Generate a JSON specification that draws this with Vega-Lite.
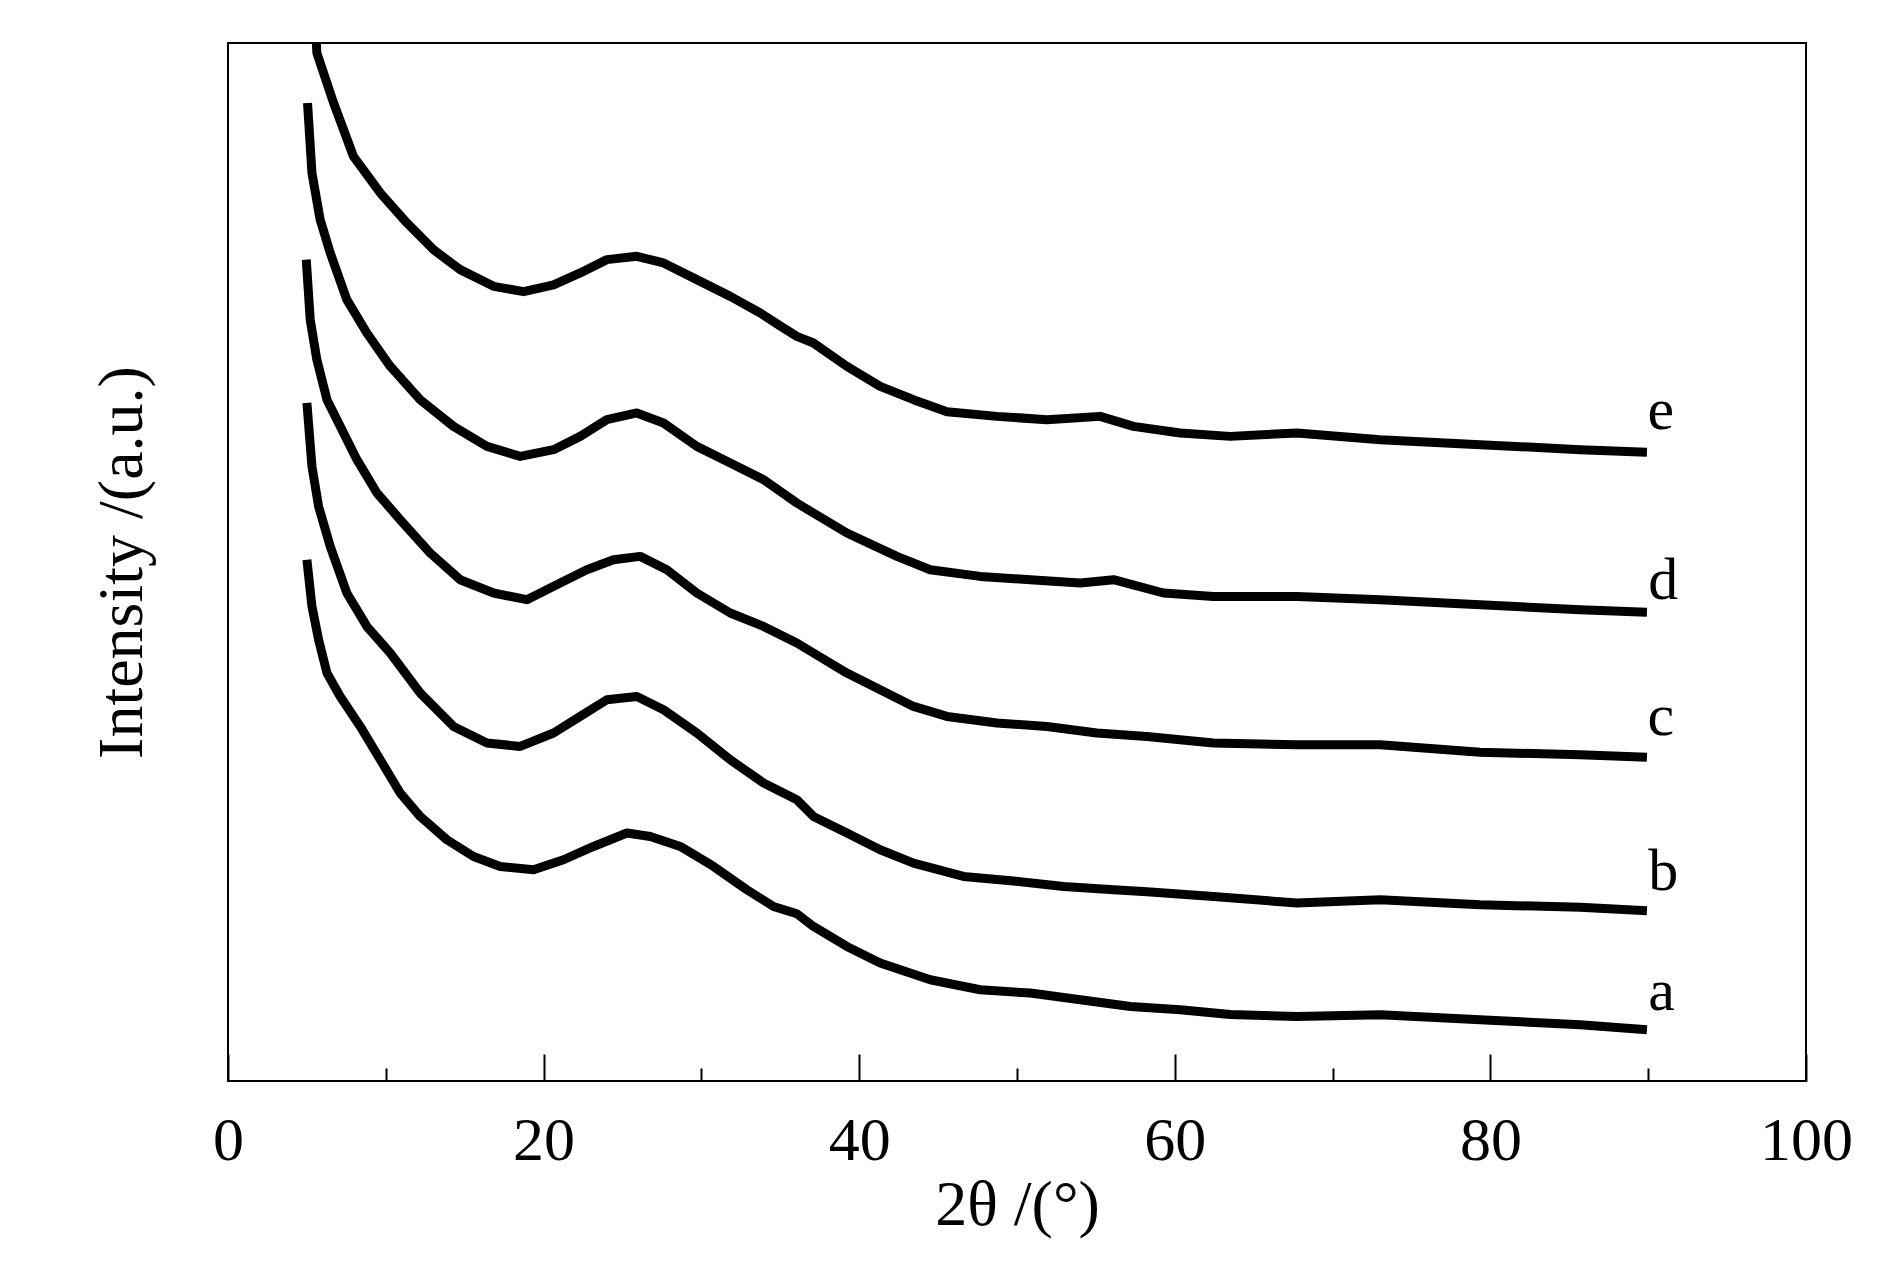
{
  "$schema": "https://vega.github.io/schema/vega-lite/v6.json",
  "autosize": {"type": "none"},
  "padding": {"left": 228, "top": 43, "right": 84, "bottom": 195},
  "width": 1578,
  "height": 1038,
  "background": "white",
  "config": {
    "view": {"stroke": "black", "strokeWidth": 2},
    "axis": {"labelFont": "Liberation Serif", "titleFont": "Liberation Serif", "labelColor": "black", "titleColor": "black", "titleFontWeight": "normal", "grid": false, "tickColor": "black", "tickWidth": 2}
  },
  "datasets": {
    "curves": [
      {"s": "e", "x": 5.50, "y": 1075}, {"s": "e", "x": 5.63, "y": 1027.9}, {"s": "e", "x": 6.69, "y": 977.9}, {"s": "e", "x": 7.95, "y": 924.5}, {"s": "e", "x": 9.65, "y": 887.9}, {"s": "e", "x": 11.34, "y": 857.9}, {"s": "e", "x": 13.02, "y": 831.2}, {"s": "e", "x": 14.71, "y": 811.2}, {"s": "e", "x": 16.83, "y": 794.5}, {"s": "e", "x": 18.73, "y": 789.2}, {"s": "e", "x": 20.63, "y": 795.9}, {"s": "e", "x": 22.32, "y": 807.9}, {"s": "e", "x": 24.01, "y": 821.2}, {"s": "e", "x": 25.91, "y": 824.5}, {"s": "e", "x": 27.60, "y": 817.9}, {"s": "e", "x": 29.71, "y": 801.2}, {"s": "e", "x": 31.83, "y": 784.5}, {"s": "e", "x": 33.73, "y": 767.9}, {"s": "e", "x": 34.99, "y": 755}, {"s": "e", "x": 36.05, "y": 744.5}, {"s": "e", "x": 37.10, "y": 737.9}, {"s": "e", "x": 39.22, "y": 714.5}, {"s": "e", "x": 41.33, "y": 694.5}, {"s": "e", "x": 43.44, "y": 681.2}, {"s": "e", "x": 45.56, "y": 669.2}, {"s": "e", "x": 48.73, "y": 664.5}, {"s": "e", "x": 51.89, "y": 661.2}, {"s": "e", "x": 55.27, "y": 664.5}, {"s": "e", "x": 57.38, "y": 654.5}, {"s": "e", "x": 60.34, "y": 647.9}, {"s": "e", "x": 63.51, "y": 644.5}, {"s": "e", "x": 67.74, "y": 647.9}, {"s": "e", "x": 73.02, "y": 641.2}, {"s": "e", "x": 79.35, "y": 636.2}, {"s": "e", "x": 85.69, "y": 631.2}, {"s": "e", "x": 89.92, "y": 628.7},
      {"s": "d", "x": 5.04, "y": 977.9}, {"s": "d", "x": 5.32, "y": 907.9}, {"s": "d", "x": 5.84, "y": 861.2}, {"s": "d", "x": 6.48, "y": 827.9}, {"s": "d", "x": 7.53, "y": 781.2}, {"s": "d", "x": 8.80, "y": 747.9}, {"s": "d", "x": 10.28, "y": 714.5}, {"s": "d", "x": 12.18, "y": 681.2}, {"s": "d", "x": 14.29, "y": 654.5}, {"s": "d", "x": 16.41, "y": 634.5}, {"s": "d", "x": 18.52, "y": 624.5}, {"s": "d", "x": 20.63, "y": 631.2}, {"s": "d", "x": 22.32, "y": 644.5}, {"s": "d", "x": 24.01, "y": 661.2}, {"s": "d", "x": 25.91, "y": 667.9}, {"s": "d", "x": 27.60, "y": 657.9}, {"s": "d", "x": 29.71, "y": 634.5}, {"s": "d", "x": 31.83, "y": 617.9}, {"s": "d", "x": 33.94, "y": 601.2}, {"s": "d", "x": 36.05, "y": 577.9}, {"s": "d", "x": 37.10, "y": 567.9}, {"s": "d", "x": 39.22, "y": 547.9}, {"s": "d", "x": 42.39, "y": 524.5}, {"s": "d", "x": 44.50, "y": 511.2}, {"s": "d", "x": 47.67, "y": 504.5}, {"s": "d", "x": 50.84, "y": 501.2}, {"s": "d", "x": 54.01, "y": 497.9}, {"s": "d", "x": 56.12, "y": 501.2}, {"s": "d", "x": 59.28, "y": 487.9}, {"s": "d", "x": 62.45, "y": 484.5}, {"s": "d", "x": 67.74, "y": 484.5}, {"s": "d", "x": 73.02, "y": 481.2}, {"s": "d", "x": 79.35, "y": 476.2}, {"s": "d", "x": 85.69, "y": 471.2}, {"s": "d", "x": 89.92, "y": 468.7},
      {"s": "c", "x": 4.96, "y": 821.2}, {"s": "c", "x": 5.21, "y": 761.2}, {"s": "c", "x": 5.63, "y": 721.2}, {"s": "c", "x": 6.27, "y": 681.2}, {"s": "c", "x": 7.11, "y": 654.5}, {"s": "c", "x": 8.17, "y": 621.2}, {"s": "c", "x": 9.44, "y": 587.9}, {"s": "c", "x": 10.91, "y": 561.2}, {"s": "c", "x": 12.81, "y": 527.9}, {"s": "c", "x": 14.71, "y": 501.2}, {"s": "c", "x": 16.83, "y": 487.9}, {"s": "c", "x": 18.94, "y": 481.2}, {"s": "c", "x": 21.05, "y": 497.9}, {"s": "c", "x": 22.74, "y": 511.2}, {"s": "c", "x": 24.43, "y": 521.2}, {"s": "c", "x": 26.12, "y": 524.5}, {"s": "c", "x": 27.81, "y": 511.2}, {"s": "c", "x": 29.71, "y": 487.9}, {"s": "c", "x": 31.83, "y": 467.9}, {"s": "c", "x": 33.94, "y": 454.5}, {"s": "c", "x": 36.05, "y": 437.9}, {"s": "c", "x": 37.10, "y": 427.9}, {"s": "c", "x": 39.22, "y": 407.9}, {"s": "c", "x": 41.33, "y": 391.2}, {"s": "c", "x": 43.44, "y": 374.5}, {"s": "c", "x": 45.56, "y": 364.5}, {"s": "c", "x": 48.73, "y": 357.9}, {"s": "c", "x": 51.89, "y": 354.5}, {"s": "c", "x": 55.06, "y": 347.9}, {"s": "c", "x": 58.23, "y": 344.5}, {"s": "c", "x": 62.45, "y": 337.9}, {"s": "c", "x": 67.74, "y": 336.2}, {"s": "c", "x": 73.02, "y": 336.2}, {"s": "c", "x": 79.35, "y": 328.7}, {"s": "c", "x": 85.69, "y": 326.2}, {"s": "c", "x": 89.92, "y": 323.7},
      {"s": "b", "x": 5.00, "y": 677.9}, {"s": "b", "x": 5.32, "y": 614.5}, {"s": "b", "x": 5.74, "y": 574.5}, {"s": "b", "x": 6.48, "y": 534.5}, {"s": "b", "x": 7.53, "y": 487.9}, {"s": "b", "x": 8.80, "y": 454.5}, {"s": "b", "x": 10.28, "y": 427.9}, {"s": "b", "x": 12.18, "y": 387.9}, {"s": "b", "x": 14.29, "y": 354.5}, {"s": "b", "x": 16.41, "y": 337.9}, {"s": "b", "x": 18.52, "y": 334.5}, {"s": "b", "x": 20.63, "y": 347.9}, {"s": "b", "x": 22.32, "y": 364.5}, {"s": "b", "x": 24.01, "y": 381.2}, {"s": "b", "x": 25.91, "y": 384.5}, {"s": "b", "x": 27.60, "y": 371.2}, {"s": "b", "x": 29.71, "y": 347.9}, {"s": "b", "x": 31.83, "y": 321.2}, {"s": "b", "x": 33.94, "y": 297.9}, {"s": "b", "x": 36.05, "y": 281.2}, {"s": "b", "x": 37.10, "y": 264.5}, {"s": "b", "x": 39.22, "y": 247.9}, {"s": "b", "x": 41.33, "y": 231.2}, {"s": "b", "x": 43.44, "y": 217.9}, {"s": "b", "x": 46.61, "y": 204.5}, {"s": "b", "x": 49.78, "y": 199.9}, {"s": "b", "x": 52.95, "y": 194.5}, {"s": "b", "x": 56.12, "y": 191.2}, {"s": "b", "x": 58.23, "y": 189.2}, {"s": "b", "x": 62.45, "y": 184.5}, {"s": "b", "x": 67.74, "y": 177.9}, {"s": "b", "x": 73.02, "y": 181.2}, {"s": "b", "x": 79.35, "y": 176.2}, {"s": "b", "x": 85.69, "y": 173.7}, {"s": "b", "x": 89.92, "y": 170.2},
      {"s": "a", "x": 5.00, "y": 521.2}, {"s": "a", "x": 5.32, "y": 474.5}, {"s": "a", "x": 5.74, "y": 441.2}, {"s": "a", "x": 6.27, "y": 407.9}, {"s": "a", "x": 7.11, "y": 384.5}, {"s": "a", "x": 8.38, "y": 354.5}, {"s": "a", "x": 9.65, "y": 321.2}, {"s": "a", "x": 10.91, "y": 287.9}, {"s": "a", "x": 12.18, "y": 264.5}, {"s": "a", "x": 13.87, "y": 241.2}, {"s": "a", "x": 15.56, "y": 224.5}, {"s": "a", "x": 17.25, "y": 214.5}, {"s": "a", "x": 19.36, "y": 211.2}, {"s": "a", "x": 21.26, "y": 221.2}, {"s": "a", "x": 23.16, "y": 234.5}, {"s": "a", "x": 25.28, "y": 247.9}, {"s": "a", "x": 26.76, "y": 244.5}, {"s": "a", "x": 28.66, "y": 234.5}, {"s": "a", "x": 30.77, "y": 214.5}, {"s": "a", "x": 32.88, "y": 191.2}, {"s": "a", "x": 34.57, "y": 174.5}, {"s": "a", "x": 36.05, "y": 167.2}, {"s": "a", "x": 37.10, "y": 154.5}, {"s": "a", "x": 39.22, "y": 134.5}, {"s": "a", "x": 41.33, "y": 117.9}, {"s": "a", "x": 44.50, "y": 101.2}, {"s": "a", "x": 47.67, "y": 91.2}, {"s": "a", "x": 50.84, "y": 87.9}, {"s": "a", "x": 54.01, "y": 81.2}, {"s": "a", "x": 57.19, "y": 74.5}, {"s": "a", "x": 60.34, "y": 71.2}, {"s": "a", "x": 63.51, "y": 66.5}, {"s": "a", "x": 67.74, "y": 64.5}, {"s": "a", "x": 73.02, "y": 66.2}, {"s": "a", "x": 79.35, "y": 61.2}, {"s": "a", "x": 85.69, "y": 56.2}, {"s": "a", "x": 89.92, "y": 51.2}
    ],
    "labels": [
      {"lab": "e", "x": 90.8, "y": 652.2},
      {"lab": "d", "x": 90.95, "y": 482.2},
      {"lab": "c", "x": 90.8, "y": 346.2},
      {"lab": "b", "x": 90.95, "y": 191.2},
      {"lab": "a", "x": 90.85, "y": 71.2}
    ]
  },
  "layer": [
    {
      "data": {"name": "curves"},
      "mark": {"type": "line", "color": "black", "strokeWidth": 9, "strokeJoin": "round", "clip": true},
      "encoding": {
        "x": {"field": "x", "type": "quantitative", "scale": {"domain": [0, 100], "nice": false, "zero": false},
              "axis": {"orient": "bottom", "values": [0, 20, 40, 60, 80, 100], "tickSize": -27, "labelPadding": 56, "labelFontSize": 62, "labelFlush": false, "domain": false, "title": "2θ /(°)", "titleFontSize": 64, "titlePadding": 2}},
        "y": {"field": "y", "type": "quantitative", "scale": {"domain": [0, 1037.8], "nice": false, "zero": false},
              "axis": {"domain": false, "ticks": false, "labels": false, "title": "Intensity /(a.u.)", "titleFontSize": 64, "titlePadding": 74}},
        "detail": {"field": "s", "type": "nominal"}
      }
    },
    {
      "data": {"name": "labels"},
      "mark": {"type": "text", "font": "Liberation Serif", "fontSize": 60, "align": "center", "baseline": "alphabetic", "color": "black"},
      "encoding": {
        "x": {"field": "x", "type": "quantitative",
              "axis": {"orient": "bottom", "values": [10, 30, 50, 70, 90], "tickSize": -13, "labels": false, "domain": false, "title": null}},
        "y": {"field": "y", "type": "quantitative"},
        "text": {"field": "lab", "type": "nominal"}
      }
    }
  ],
  "resolve": {"axis": {"x": "independent"}}
}
